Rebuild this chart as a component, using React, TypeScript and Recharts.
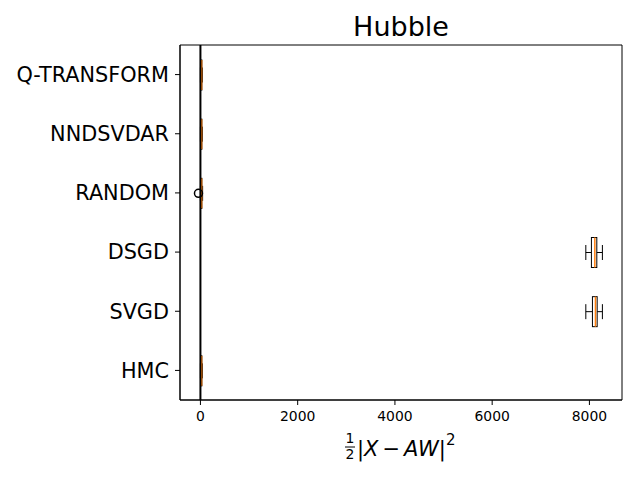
import React from 'react';
import { ComposedChart, Bar, XAxis, YAxis, ReferenceLine, ReferenceArea } from 'recharts';

const categories = ['Q-TRANSFORM', 'NNDSVDAR', 'RANDOM', 'DSGD', 'SVGD', 'HMC'];
const lows = [0, 0, 0, 7926, 7926, 0];
const q1s = [10, 10, 10, 8041, 8062, 10];
const medians = [25, 25, 25, 8111, 8124, 25];
const q3s = [30, 30, 30, 8152, 8159, 30];
const highs = [40, 40, 45, 8267, 8267, 40];
const fliers: number[][] = [[], [], [-40], [], [], []];
const xTicks = [0, 2000, 4000, 6000, 8000];
const xDomain = [-420, 8670];

const data = categories.map((name, i) => ({
  name,
  range: [lows[i], highs[i]],
  q1: q1s[i],
  median: medians[i],
  q3: q3s[i],
  fliers: fliers[i],
}));

const FONT = 'DejaVu Sans';

// one box: bar geometry gives scale(low)..scale(high), the rest is mapped on it
const BoxShape = (props: any) => {
  const { x, y, width, height, payload } = props;
  const [lo, hi] = payload.range;
  const span = hi - lo || 1;
  const px = (v: number) => x + ((v - lo) / span) * width;
  const cy = y + height / 2;
  const capH = height / 4;
  return (
    <g>
      <line x1={px(lo)} x2={px(payload.q1)} y1={cy} y2={cy} stroke="#000" strokeWidth={1} />
      <line x1={px(payload.q3)} x2={px(hi)} y1={cy} y2={cy} stroke="#000" strokeWidth={1} />
      <line x1={px(lo)} x2={px(lo)} y1={cy - capH} y2={cy + capH} stroke="#000" strokeWidth={1} />
      <line x1={px(hi)} x2={px(hi)} y1={cy - capH} y2={cy + capH} stroke="#000" strokeWidth={1} />
      <rect
        x={px(payload.q1)}
        y={y}
        width={Math.max(px(payload.q3) - px(payload.q1), 0)}
        height={height}
        fill="none"
        stroke="#000"
        strokeWidth={1}
      />
      <line
        x1={px(payload.median)}
        x2={px(payload.median)}
        y1={y}
        y2={y + height}
        stroke="#ff7f0e"
        strokeWidth={1.5}
      />
      {payload.fliers.map((f: number, k: number) => (
        <circle key={k} cx={px(f)} cy={cy} r={4} fill="none" stroke="#000" strokeWidth={1.5} />
      ))}
    </g>
  );
};

const XLabel = (props: any) => {
  const { viewBox } = props;
  const cx = viewBox.x + viewBox.width / 2;
  const top = viewBox.y;
  const left = cx - 56;
  return (
    <g fontFamily={FONT} fill="#000">
      <text x={left + 5} y={top + 43} fontSize={14} textAnchor="middle">1</text>
      <line x1={left} x2={left + 10} y1={top + 47} y2={top + 47} stroke="#000" strokeWidth={1} />
      <text x={left + 5} y={top + 59} fontSize={14} textAnchor="middle">2</text>
      <text x={left + 12} y={top + 56} fontSize={21}>
        <tspan>|</tspan>
        <tspan fontStyle="italic">X</tspan>
        <tspan dx={4}>−</tspan>
        <tspan dx={4} fontStyle="italic">AW</tspan>
        <tspan>|</tspan>
        <tspan fontSize={15} dy={-11}>2</tspan>
      </text>
    </g>
  );
};

export default function App() {
  return (
    <div style={{ position: 'absolute', left: 0, top: 0, width: 640, height: 480, background: '#fff' }}>
      <svg width={640} height={60} style={{ position: 'absolute', left: 0, top: 0 }}>
        <text x={401} y={36} fontFamily={FONT} fontSize={27} textAnchor="middle" fill="#000">
          Hubble
        </text>
      </svg>
      <ComposedChart
        width={640}
        height={480}
        data={data}
        layout="vertical"
        margin={{ top: 45, right: 18, left: 0, bottom: 20 }}
        style={{ position: 'absolute', left: 0, top: 0 }}
      >
        <XAxis
          type="number"
          domain={xDomain}
          ticks={xTicks}
          allowDataOverflow
          height={60}
          tickSize={5}
          tickMargin={6}
          stroke="#000"
          tick={{ fill: '#000', fontSize: 13.9, fontFamily: FONT }}
          label={{ content: <XLabel /> }}
        />
        <YAxis
          type="category"
          dataKey="name"
          width={180}
          tickSize={5}
          tickMargin={6}
          stroke="#000"
          tick={{ fill: '#000', fontSize: 20.8, fontFamily: FONT }}
        />
        <ReferenceArea x1={xDomain[0]} x2={xDomain[1]} fill="none" stroke="#000" strokeWidth={1} fillOpacity={0} />
        <ReferenceLine x={0} stroke="#000" strokeWidth={2} />
        <Bar dataKey="range" barSize={30} shape={<BoxShape />} isAnimationActive={false} />
      </ComposedChart>
    </div>
  );
}
